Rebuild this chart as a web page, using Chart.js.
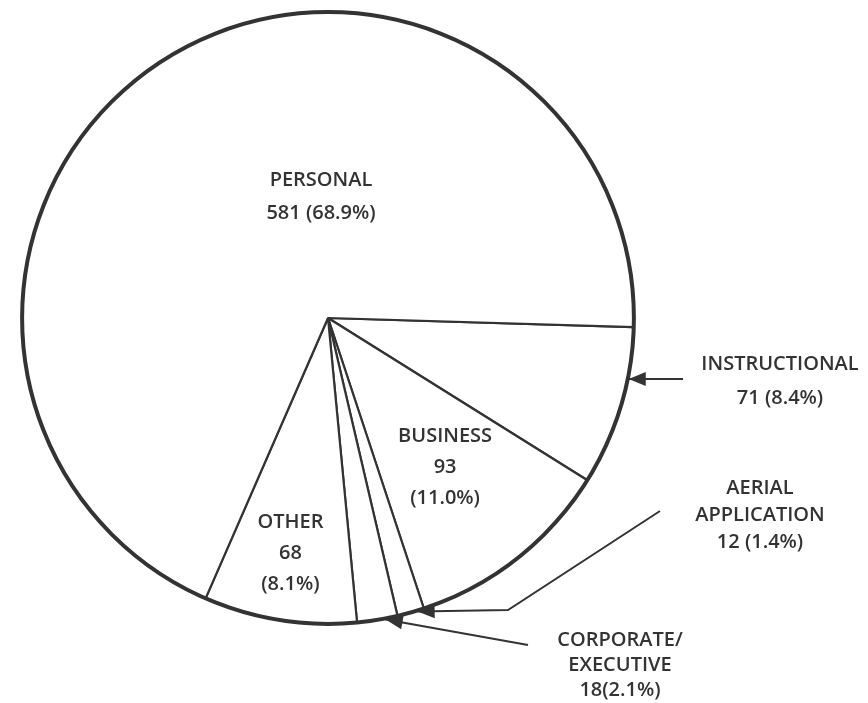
<!DOCTYPE html>
<html>
<head>
<meta charset="utf-8">
<script src="https://cdn.jsdelivr.net/npm/chart.js@4.4.0/dist/chart.umd.min.js"></script>
<style>
  html, body { margin: 0; padding: 0; background: #fff; }
  #wrap { width: 868px; height: 703px; }
</style>
</head>
<body>
<div id="wrap"><canvas id="grafico" width="868" height="703"></canvas></div>
<script>
// slices go clockwise from 3 o'clock
const categories = ['INSTRUCTIONAL', 'BUSINESS', 'AERIAL APPLICATION', 'CORPORATE/EXECUTIVE', 'OTHER', 'PERSONAL'];
const counts = [71, 93, 12, 18, 68, 581];
const percents = ['8.4%', '11.0%', '1.4%', '2.1%', '8.1%', '68.9%'];
const labelLines = [
  ['INSTRUCTIONAL', counts[0] + ' (' + percents[0] + ')'],
  ['BUSINESS', String(counts[1]), '(' + percents[1] + ')'],
  ['AERIAL', 'APPLICATION', counts[2] + ' (' + percents[2] + ')'],
  ['CORPORATE/', 'EXECUTIVE', counts[3] + '(' + percents[3] + ')'],
  ['OTHER', String(counts[4]), '(' + percents[4] + ')'],
  ['PERSONAL', counts[5] + ' (' + percents[5] + ')'],
];

const ink = '#333333';
const font = '600 20px "Open Sans", "DejaVu Sans", sans-serif';

// where each label goes: inside at a fraction of the radius, or outside with an arrow
const layout = [
  { x: 780, y: 364, gap: 34, arrow: 'flat', tail: [683, 379] },
  { frac: 0.62, gap: 31 },
  { x: 760, y: 488, gap: 27, arrow: [[660, 511], [508, 610]], at: 0.25 },
  { x: 620, y: 640, gap: 25, arrow: [[528, 645]], at: 0.3 },
  { frac: 0.78, gap: 31 },
  { dx: -7, dy: -138, gap: 33 },
];

function drawArrow(ctx, pts) {
  ctx.beginPath();
  ctx.moveTo(pts[0][0], pts[0][1]);
  for (let i = 1; i < pts.length; i++) ctx.lineTo(pts[i][0], pts[i][1]);
  ctx.stroke();
  const a = pts[pts.length - 2], b = pts[pts.length - 1];
  const ang = Math.atan2(b[1] - a[1], b[0] - a[0]);
  const len = 17, w = 7;
  ctx.beginPath();
  ctx.moveTo(b[0], b[1]);
  ctx.lineTo(b[0] - len * Math.cos(ang) + w * Math.sin(ang), b[1] - len * Math.sin(ang) - w * Math.cos(ang));
  ctx.lineTo(b[0] - len * Math.cos(ang) - w * Math.sin(ang), b[1] - len * Math.sin(ang) + w * Math.cos(ang));
  ctx.closePath();
  ctx.fill();
}

const labelsPlugin = {
  id: 'labelsPlugin',
  afterDatasetsDraw(chart) {
    const ctx = chart.ctx;
    const arcs = chart.getDatasetMeta(0).data;
    const cx = arcs[0].x, cy = arcs[0].y, R = arcs[0].outerRadius;

    ctx.save();
    ctx.strokeStyle = ink;
    ctx.fillStyle = ink;
    ctx.lineWidth = 4;
    ctx.beginPath();
    ctx.arc(cx, cy, R, 0, Math.PI * 2);
    ctx.stroke();

    ctx.font = font;
    ctx.textAlign = 'center';
    ctx.textBaseline = 'middle';
    ctx.lineWidth = 2;

    arcs.forEach((arc, i) => {
      const L = layout[i];
      const lines = labelLines[i];
      const s = arc.startAngle, e = arc.endAngle;
      let x, y;
      if (L.frac !== undefined) {
        const mid = (s + e) / 2;
        x = cx + Math.cos(mid) * R * L.frac;
        y = cy + Math.sin(mid) * R * L.frac - (lines.length - 1) * L.gap / 2;
      } else if (L.dx !== undefined) {
        x = cx + L.dx;
        y = cy + L.dy;
      } else {
        x = L.x;
        y = L.y;
      }
      lines.forEach((t, k) => ctx.fillText(t, x, y + k * L.gap));

      if (L.arrow === 'flat') {
        const ty = L.tail[1];
        const tx = cx + Math.sqrt(R * R - (ty - cy) * (ty - cy)) + 1;
        drawArrow(ctx, [L.tail, [tx, ty]]);
      } else if (L.arrow) {
        const ang = s + (e - s) * L.at;
        const tip = [cx + Math.cos(ang) * (R + 1), cy + Math.sin(ang) * (R + 1)];
        drawArrow(ctx, L.arrow.concat([tip]));
      }
    });
    ctx.restore();
  }
};

new Chart(document.getElementById('grafico'), {
  type: 'pie',
  data: {
    labels: categories,
    datasets: [{
      data: counts,
      backgroundColor: '#ffffff',
      borderColor: ink,
      borderWidth: 2.2,
    }]
  },
  options: {
    responsive: false,
    animation: false,
    rotation: 91.7,
    layout: { padding: { left: 21, top: 11, right: 233, bottom: 78 } },
    plugins: {
      legend: { display: false },
      tooltip: { enabled: false }
    }
  },
  plugins: [labelsPlugin]
});
</script>
</body>
</html>
